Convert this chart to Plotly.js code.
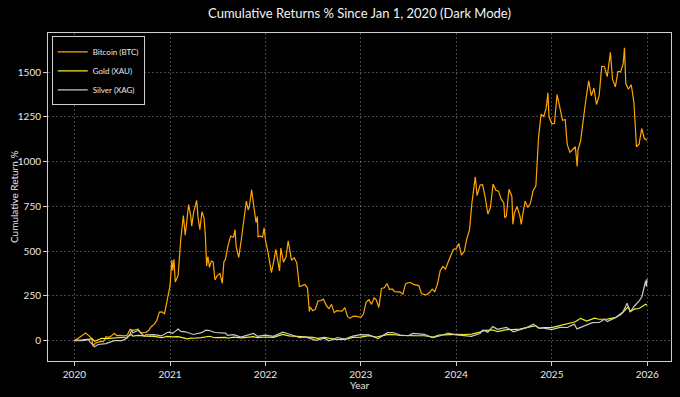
<!DOCTYPE html>
<html>
<head>
<meta charset="utf-8">
<script src="https://cdn.plot.ly/plotly-3.0.1.min.js"></script>
<style>html,body{margin:0;padding:0;background:#000;}#chart{width:680px;height:397px;}</style>
</head>
<body>
<div id="chart"></div>
<script>
// Cumulative return % since Jan 1, 2020 — [date, value]
const btc = [
["2020-01-01",0],["2020-01-11",12],["2020-01-21",20],["2020-02-01",30],["2020-02-12",43],["2020-02-21",34],["2020-03-01",19],["2020-03-08",12],["2020-03-12",-30],["2020-03-21",-14],["2020-04-01",-8],["2020-04-11",-4],["2020-04-21",-5],["2020-05-01",23],["2020-05-11",19],["2020-05-21",26],["2020-06-01",42],["2020-06-11",29],["2020-06-21",30],["2020-07-01",28],["2020-07-11",28],["2020-07-21",31],["2020-08-01",64],["2020-08-11",58],["2020-08-21",60],["2020-09-01",65],["2020-09-11",44],["2020-09-21",45],["2020-10-01",47],["2020-10-11",57],["2020-10-21",78],["2020-11-01",91],["2020-11-11",112],["2020-11-21",160],["2020-12-01",161],["2020-12-11",151],["2020-12-21",217],
["2021-01-01",308],["2021-01-08",450],["2021-01-11",393],["2021-01-16",455],["2021-01-21",328],["2021-02-01",365],["2021-02-11",565],["2021-02-21",699],["2021-02-28",589],["2021-03-05",650],["2021-03-13",760],["2021-03-21",699],["2021-03-25",640],["2021-04-01",715],["2021-04-13",783],["2021-04-18",690],["2021-04-25",620],["2021-05-03",720],["2021-05-11",688],["2021-05-16",590],["2021-05-21",418],["2021-05-26",470],["2021-06-01",410],["2021-06-08",445],["2021-06-15",440],["2021-06-22",339],["2021-07-01",365],["2021-07-11",375],["2021-07-20",320],["2021-07-26",440],["2021-08-01",454],["2021-08-11",533],["2021-08-21",585],["2021-09-01",578],["2021-09-07",620],["2021-09-11",525],["2021-09-21",465],["2021-10-01",568],["2021-10-11",697],["2021-10-20",780],["2021-10-27",730],["2021-11-01",751],["2021-11-09",843],["2021-11-18",730],["2021-11-26",660],["2021-12-01",694],["2021-12-04",580],["2021-12-11",585],["2021-12-21",579],["2021-12-27",630],
["2022-01-01",563],["2022-01-11",493],["2022-01-21",404],["2022-01-24",380],["2022-02-01",438],["2022-02-10",510],["2022-02-21",414],["2022-02-24",390],["2022-03-01",517],["2022-03-11",439],["2022-03-21",469],["2022-03-29",558],["2022-04-11",449],["2022-04-21",463],["2022-05-01",435],["2022-05-11",303],["2022-05-21",308],["2022-06-01",314],["2022-06-11",294],["2022-06-18",164],["2022-06-21",188],["2022-07-01",168],["2022-07-11",176],["2022-07-21",222],["2022-08-01",224],["2022-08-11",233],["2022-08-21",199],["2022-09-01",179],["2022-09-11",203],["2022-09-21",157],["2022-10-01",168],["2022-10-11",165],["2022-10-21",166],["2022-11-01",185],["2022-11-11",136],["2022-11-21",125],["2022-12-01",136],["2022-12-11",138],["2022-12-21",133],
["2023-01-01",131],["2023-01-11",149],["2023-01-21",215],["2023-02-01",229],["2023-02-11",203],["2023-02-21",240],["2023-03-01",228],["2023-03-11",186],["2023-03-21",292],["2023-04-01",296],["2023-04-11",319],["2023-04-21",286],["2023-05-01",289],["2023-05-11",274],["2023-05-21",272],["2023-06-01",272],["2023-06-11",260],["2023-06-21",317],["2023-07-01",324],["2023-07-11",325],["2023-07-21",315],["2023-08-01",313],["2023-08-11",308],["2023-08-21",263],["2023-09-01",258],["2023-09-11",258],["2023-09-21",269],["2023-10-01",288],["2023-10-11",274],["2023-10-21",315],["2023-11-01",392],["2023-11-11",415],["2023-11-21",400],["2023-12-01",438],["2023-12-11",472],["2023-12-21",510],
["2024-01-01",514],["2024-01-11",543],["2024-01-21",478],["2024-02-01",499],["2024-02-11",571],["2024-02-21",619],["2024-03-01",767],["2024-03-11",901],["2024-03-14",915],["2024-03-21",810],["2024-04-01",868],["2024-04-11",872],["2024-04-21",801],["2024-05-01",708],["2024-05-11",744],["2024-05-21",874],["2024-06-01",840],["2024-06-11",835],["2024-06-21",790],["2024-07-01",771],["2024-07-05",686],["2024-07-11",696],["2024-07-21",846],["2024-08-01",807],["2024-08-05",650],["2024-08-11",715],["2024-08-21",749],["2024-09-01",696],["2024-09-06",649],["2024-09-11",700],["2024-09-21",779],["2024-10-01",744],["2024-10-11",767],["2024-10-21",836],["2024-11-01",865],["2024-11-11",1132],["2024-11-21",1265],["2024-12-01",1251],["2024-12-11",1304],["2024-12-17",1384],["2024-12-21",1250],
["2025-01-01",1211],["2025-01-11",1213],["2025-01-21",1374],["2025-02-01",1297],["2025-02-11",1231],["2025-02-21",1235],["2025-03-01",1096],["2025-03-11",1051],["2025-03-21",1067],["2025-04-01",1083],["2025-04-08",973],["2025-04-11",1064],["2025-04-21",1115],["2025-05-01",1240],["2025-05-11",1344],["2025-05-22",1451],["2025-06-01",1368],["2025-06-11",1410],["2025-06-21",1319],["2025-07-01",1368],["2025-07-11",1532],["2025-07-21",1531],["2025-08-01",1474],["2025-08-13",1610],["2025-08-21",1462],["2025-09-01",1417],["2025-09-11",1504],["2025-09-21",1501],["2025-10-01",1547],["2025-10-06",1635],["2025-10-11",1436],["2025-10-21",1404],["2025-11-01",1429],["2025-11-11",1331],["2025-11-21",1082],["2025-12-01",1099],["2025-12-11",1185],["2025-12-21",1129],["2025-12-31",1120]
];
const gold = [
["2020-01-01",0],["2020-01-08",4],["2020-02-01",5],["2020-02-24",11],["2020-03-09",11],["2020-03-19",-3],["2020-04-01",5],["2020-04-14",14],["2020-05-01",12],["2020-06-01",15],["2020-07-01",17],["2020-07-21",21],["2020-08-06",36],["2020-08-11",26],["2020-09-01",30],["2020-09-21",26],["2020-10-01",26],["2020-11-01",24],["2020-11-09",23],["2020-11-30",17],["2020-12-21",24],
["2021-01-01",25],["2021-01-11",22],["2021-02-01",23],["2021-02-21",17],["2021-03-08",11],["2021-03-21",15],["2021-04-01",14],["2021-05-01",17],["2021-06-01",25],["2021-06-21",17],["2021-07-01",17],["2021-08-01",19],["2021-08-09",14],["2021-09-01",20],["2021-10-01",16],["2021-11-01",18],["2021-11-16",23],["2021-12-01",17],["2021-12-31",21],
["2022-02-01",19],["2022-03-08",35],["2022-04-01",27],["2022-05-01",23],["2022-06-01",22],["2022-07-01",19],["2022-07-21",13],["2022-08-15",19],["2022-09-28",7],["2022-10-21",9],["2022-11-03",7],["2022-12-01",19],["2022-12-31",20],
["2023-02-01",29],["2023-03-01",21],["2023-04-13",34],["2023-05-04",35],["2023-06-01",30],["2023-07-01",27],["2023-08-01",28],["2023-09-01",28],["2023-10-05",20],["2023-10-27",32],["2023-12-01",36],["2023-12-31",36],
["2024-02-01",35],["2024-03-01",37],["2024-04-01",48],["2024-04-19",58],["2024-05-20",60],["2024-06-07",51],["2024-07-17",63],["2024-08-01",62],["2024-09-01",65],["2024-10-01",75],["2024-10-30",84],["2024-11-14",69],["2024-12-01",74],["2024-12-31",73],
["2025-02-01",85],["2025-02-24",94],["2025-04-01",106],["2025-04-21",125],["2025-05-15",110],["2025-06-13",126],["2025-07-01",120],["2025-08-01",121],["2025-09-01",129],["2025-09-22",147],["2025-10-20",190],["2025-10-28",162],["2025-11-12",177],["2025-12-01",180],["2025-12-26",204],["2025-12-31",198]
];
const silver = [
["2020-01-01",0],["2020-02-01",1],["2020-02-24",6],["2020-03-01",-6],["2020-03-18",-33],["2020-04-01",-21],["2020-05-01",-16],["2020-06-01",1],["2020-07-01",1],["2020-07-21",15],["2020-08-01",37],["2020-08-07",62],["2020-08-11",45],["2020-09-01",58],["2020-09-24",25],["2020-10-01",33],["2020-11-01",34],["2020-11-30",27],["2020-12-21",46],["2020-12-31",48],
["2021-01-11",41],["2021-02-01",65],["2021-02-11",52],["2021-03-01",50],["2021-03-31",35],["2021-05-01",45],["2021-05-18",59],["2021-06-01",57],["2021-06-21",46],["2021-07-01",46],["2021-08-01",43],["2021-08-09",30],["2021-09-01",34],["2021-09-29",20],["2021-11-01",33],["2021-11-16",41],["2021-12-01",25],["2021-12-31",31],
["2022-02-01",25],["2022-03-08",48],["2022-04-01",38],["2022-05-01",26],["2022-05-13",17],["2022-06-01",22],["2022-07-14",2],["2022-08-15",14],["2022-09-01",0],["2022-10-04",18],["2022-11-01",10],["2022-12-01",26],["2022-12-31",34],
["2023-02-01",33],["2023-03-08",12],["2023-04-13",45],["2023-05-04",46],["2023-06-01",32],["2023-07-01",28],["2023-07-20",41],["2023-09-01",36],["2023-10-03",18],["2023-11-01",28],["2023-12-01",43],["2023-12-31",33],
["2024-02-01",29],["2024-02-28",25],["2024-04-01",40],["2024-04-12",60],["2024-05-01",48],["2024-05-20",79],["2024-06-07",64],["2024-07-11",75],["2024-08-07",50],["2024-09-01",61],["2024-10-01",76],["2024-10-22",93],["2024-11-14",70],["2024-12-01",71],["2024-12-31",62],
["2025-02-01",75],["2025-03-01",74],["2025-03-28",93],["2025-04-07",66],["2025-05-01",80],["2025-06-05",101],["2025-07-01",102],["2025-07-22",120],["2025-08-01",107],["2025-09-01",129],["2025-09-30",160],["2025-10-16",210],["2025-10-28",162],["2025-11-13",194],["2025-12-01",222],["2025-12-12",247],["2025-12-26",335],["2025-12-29",303],["2025-12-31",345]
];
const seriesNames = ["Bitcoin (BTC)", "Gold (XAU)", "Silver (XAG)"];
const yearTicks = ["2020","2021","2022","2023","2024","2025","2026"];

const colors = ["#FFA500", "#EFEF2A", "#C8C8C8"];
const font = "Lato, 'Open Sans', sans-serif";
const traces = [btc, gold, silver].map((s, i) => ({
  type: "scatter", mode: "lines", name: seriesNames[i],
  x: s.map(r => r[0]), y: s.map(r => r[1]),
  line: {color: colors[i], width: 1.2}
}));

const axisCommon = {
  showline: true, mirror: true, linecolor: "#cfcfcf", linewidth: 1,
  ticks: "outside", ticklen: 4, tickcolor: "#cfcfcf",
  showgrid: true, gridcolor: "rgba(255,255,255,0.4)", griddash: "2px,2px", gridwidth: 0.7,
  zeroline: false, tickfont: {size: 10, color: "#e8e8e8", family: font}
};

const layout = {
  width: 680, height: 397,
  paper_bgcolor: "#000", plot_bgcolor: "#000",
  margin: {l: 48, r: 9, t: 33, b: 36},
  title: {text: "Cumulative Returns % Since Jan 1, 2020 (Dark Mode)", font: {size: 13, color: "#f2f2f2", family: font},
          x: 0.5, xref: "paper", y: 0.965, yref: "container", yanchor: "middle"},
  xaxis: Object.assign({}, axisCommon, {
    type: "date", range: ["2019-09-22", "2026-04-02"],
    tickvals: yearTicks.map(y => y + "-01-01"), ticktext: yearTicks
  }),
  yaxis: Object.assign({}, axisCommon, {
    range: [-113, 1718], dtick: 250, tick0: 0
  }),
  annotations: [
    {text: "Year", xref: "paper", yref: "paper", x: 0.5, y: -0.074, yanchor: "middle", xanchor: "center",
     showarrow: false, font: {size: 10, color: "#e8e8e8", family: font}},
    {text: "Cumulative Return %", xref: "paper", yref: "paper", x: -0.0546, y: 0.5, textangle: -90,
     xanchor: "center", yanchor: "middle", showarrow: false, font: {size: 10, color: "#e8e8e8", family: font}}
  ],
  legend: {x: 0.006, y: 0.99, xanchor: "left", yanchor: "top", bgcolor: "#000",
           bordercolor: "#cfcfcf", borderwidth: 1, font: {size: 8, color: "#e8e8e8", family: font},
           tracegroupgap: 0, itemwidth: 30},
  showlegend: true
};

Plotly.newPlot("chart", traces, layout, {displayModeBar: false, staticPlot: true});
</script>
</body>
</html>
